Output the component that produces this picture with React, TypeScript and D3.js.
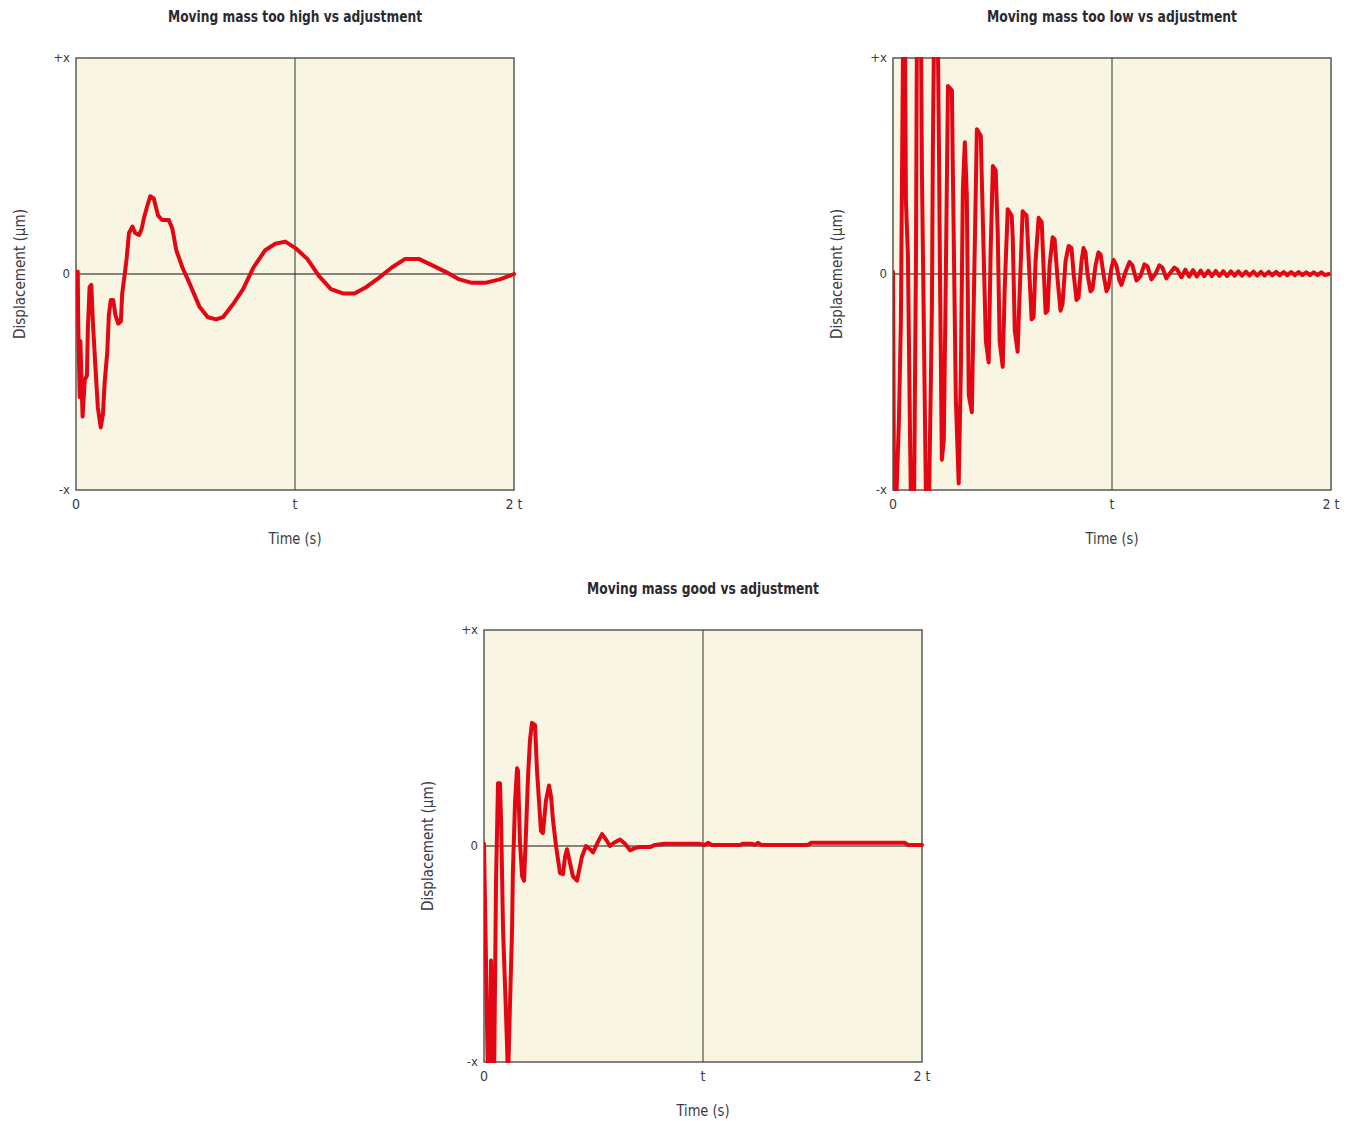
import React from "react";
import * as d3 from "d3";

// time in multiples of t, displacement as fraction of x
const highT = [0, 0.008, 0.01, 0.017, 0.02, 0.03, 0.04, 0.05, 0.054, 0.062, 0.07, 0.077, 0.088, 0.1, 0.113, 0.123, 0.131, 0.143, 0.15, 0.159, 0.17, 0.18, 0.193, 0.205, 0.211, 0.224, 0.231, 0.242, 0.258, 0.27, 0.288, 0.3, 0.313, 0.324, 0.339, 0.355, 0.375, 0.393, 0.424, 0.44, 0.458, 0.486, 0.517, 0.563, 0.602, 0.64, 0.671, 0.717, 0.763, 0.81, 0.864, 0.91, 0.956, 1.002, 1.056, 1.11, 1.164, 1.218, 1.272, 1.326, 1.38, 1.442, 1.503, 1.565, 1.627, 1.688, 1.75, 1.804, 1.873, 1.935, 2.0];
const highY = [0.01, 0.01, -0.22, -0.57, -0.31, -0.66, -0.49, -0.47, -0.26, -0.06, -0.05, -0.22, -0.42, -0.62, -0.71, -0.65, -0.5, -0.36, -0.19, -0.12, -0.12, -0.19, -0.23, -0.22, -0.09, 0.01, 0.07, 0.19, 0.22, 0.19, 0.18, 0.21, 0.27, 0.31, 0.36, 0.35, 0.27, 0.25, 0.25, 0.21, 0.11, 0.03, -0.04, -0.15, -0.2, -0.21, -0.2, -0.14, -0.07, 0.03, 0.11, 0.14, 0.15, 0.12, 0.07, -0.01, -0.07, -0.09, -0.09, -0.06, -0.02, 0.03, 0.07, 0.07, 0.04, 0.01, -0.025, -0.04, -0.04, -0.025, 0.0];

const lowT = [0, 0.005, 0.014, 0.027, 0.036, 0.046, 0.055, 0.059, 0.068, 0.077, 0.082, 0.096, 0.105, 0.109, 0.128, 0.132, 0.141, 0.15, 0.164, 0.173, 0.178, 0.182, 0.187, 0.205, 0.21, 0.214, 0.223, 0.232, 0.241, 0.251, 0.269, 0.273, 0.287, 0.3, 0.31, 0.319, 0.328, 0.337, 0.346, 0.36, 0.369, 0.383, 0.401, 0.405, 0.424, 0.437, 0.446, 0.456, 0.469, 0.478, 0.487, 0.501, 0.51, 0.524, 0.542, 0.547, 0.556, 0.569, 0.579, 0.592, 0.61, 0.62, 0.633, 0.642, 0.651, 0.665, 0.679, 0.688, 0.697, 0.706, 0.715, 0.729, 0.738, 0.752, 0.765, 0.774, 0.788, 0.802, 0.815, 0.825, 0.838, 0.847, 0.861, 0.87, 0.879, 0.888, 0.902, 0.911, 0.925, 0.938, 0.948, 0.961, 0.975, 0.984, 0.998, 1.007, 1.02, 1.034, 1.043, 1.062, 1.08, 1.093, 1.112, 1.13, 1.148, 1.162, 1.18, 1.198, 1.216, 1.23, 1.248, 1.266, 1.285, 1.298, 1.317, 1.335, 1.352, 1.37, 1.387, 1.405, 1.421, 1.44, 1.456, 1.474, 1.49, 1.508, 1.525, 1.543, 1.56, 1.577, 1.594, 1.612, 1.628, 1.646, 1.663, 1.68, 1.697, 1.715, 1.732, 1.75, 1.766, 1.784, 1.8, 1.818, 1.835, 1.852, 1.87, 1.887, 1.904, 1.921, 1.938, 1.956, 1.972, 1.99, 2.0];
const lowY = [0.01, -1.08, -1.08, -0.68, -0.22, 1.08, 1.08, 0.34, 0.09, -0.68, -1.08, -1.08, 0.09, 1.08, 1.08, 0.48, -0.26, -1.0, -1.08, -0.49, -0.12, 0.57, 1.08, 1.08, 0.57, 0.06, -0.86, -0.77, -0.03, 0.87, 0.85, 0.5, -0.58, -0.97, -0.44, 0.39, 0.61, 0.37, -0.56, -0.64, -0.12, 0.67, 0.64, 0.46, -0.31, -0.41, 0.11, 0.5, 0.48, 0.2, -0.31, -0.43, -0.07, 0.3, 0.27, 0.16, -0.26, -0.36, -0.07, 0.29, 0.27, 0.06, -0.21, -0.2, 0.06, 0.26, 0.24, 0.02, -0.18, -0.17, 0.04, 0.17, 0.16, -0.03, -0.17, -0.14, 0.06, 0.13, 0.12, 0.0, -0.12, -0.11, 0.06, 0.12, 0.1, 0.0, -0.08, -0.07, 0.04, 0.1, 0.09, 0.0, -0.08, -0.06, 0.03, 0.065, 0.04, -0.03, -0.05, 0.01, 0.055, 0.04, -0.03, -0.01, 0.045, 0.035, -0.025, 0.0, 0.04, 0.03, -0.02, 0.005, 0.03, 0.02, -0.015, 0.02, -0.012, 0.018, -0.012, 0.016, -0.01, 0.015, -0.01, 0.014, -0.009, 0.013, -0.009, 0.012, -0.008, 0.012, -0.008, 0.011, -0.007, 0.011, -0.007, 0.01, -0.007, 0.01, -0.006, 0.01, -0.006, 0.009, -0.006, 0.009, -0.006, 0.009, -0.005, 0.008, -0.005, 0.008, -0.005, 0.008, -0.005, 0.0];

const goodT = [0, 0.009, 0.018, 0.027, 0.032, 0.041, 0.046, 0.055, 0.064, 0.073, 0.078, 0.087, 0.1, 0.11, 0.119, 0.128, 0.132, 0.142, 0.151, 0.155, 0.164, 0.174, 0.183, 0.192, 0.201, 0.21, 0.219, 0.233, 0.242, 0.251, 0.26, 0.269, 0.283, 0.297, 0.306, 0.315, 0.329, 0.347, 0.361, 0.37, 0.379, 0.393, 0.406, 0.425, 0.434, 0.447, 0.466, 0.484, 0.498, 0.521, 0.539, 0.557, 0.575, 0.594, 0.621, 0.644, 0.667, 0.689, 0.712, 0.758, 0.781, 0.826, 0.986, 1.009, 1.023, 1.04, 1.17, 1.18, 1.224, 1.237, 1.251, 1.265, 1.479, 1.493, 1.922, 1.936, 2.0];
const goodY = [0.01, -0.53, -1.08, -1.08, -0.53, -1.08, -1.08, -0.16, 0.29, 0.29, 0.12, -0.39, -0.76, -1.08, -0.72, -0.39, -0.12, 0.21, 0.36, 0.35, 0.02, -0.14, -0.16, 0.07, 0.32, 0.49, 0.57, 0.56, 0.35, 0.21, 0.07, 0.06, 0.21, 0.28, 0.23, 0.12, 0.0, -0.125, -0.13, -0.05, -0.015, -0.08, -0.14, -0.16, -0.115, -0.05, 0.0, -0.015, -0.03, 0.02, 0.055, 0.03, 0.0, 0.015, 0.03, 0.01, -0.02, -0.01, -0.005, -0.005, 0.005, 0.01, 0.01, 0.005, 0.015, 0.005, 0.005, 0.01, 0.01, 0.005, 0.015, 0.005, 0.005, 0.015, 0.015, 0.005, 0.005];

const xTicks = [0, 1, 2];
const xTickLabels = ["0", "t", "2 t"];
const yTicks = [1, 0, -1];
const yTickLabels = ["+x", "0", "-x"];

const panels = [
  { id: "high", title: "Moving mass too high vs adjustment", titleLen: 254, t: highT, y: highY, left: 76, top: 58 },
  { id: "low", title: "Moving mass too low vs adjustment", titleLen: 250, t: lowT, y: lowY, left: 893, top: 58 },
  { id: "good", title: "Moving mass good vs adjustment", titleLen: 232, t: goodT, y: goodY, left: 484, top: 630 },
];

const W = 438;
const H = 432;
const font = "'Liberation Sans Narrow', 'DejaVu Sans Condensed', 'Arial Narrow', sans-serif";
const textColor = "#3b3b44";

function Panel({ p }: { p: typeof panels[number] }) {
  const x = d3.scaleLinear().domain([0, 2]).range([0, W]);
  const y = d3.scaleLinear().domain([-1, 1]).range([H, 0]);
  const pts: [number, number][] = p.t.map((d, i) => [d, p.y[i]]);
  const line = d3.line<[number, number]>().x((d) => x(d[0])).y((d) => y(d[1]));
  return (
    <g transform={`translate(${p.left},${p.top})`}>
      <defs>
        <clipPath id={`clip-${p.id}`}>
          <rect x={0} y={-1} width={W + 4} height={H + 2} />
        </clipPath>
      </defs>
      <text x={x(1)} y={-36} textAnchor="middle" fontFamily={font} fontWeight="bold" fontSize={15} fill="#2a2a30"
        textLength={p.titleLen} lengthAdjust="spacingAndGlyphs">
        {p.title}
      </text>
      <rect x={0} y={0} width={W} height={H} fill="#f8f6e2" stroke="#5a5a5a" strokeWidth={1.5} />
      <line x1={x(1)} x2={x(1)} y1={0} y2={H} stroke="#333" strokeWidth={1} />
      <line x1={0} x2={W} y1={y(0)} y2={y(0)} stroke="#111" strokeWidth={1} />
      <path d={line(pts) || ""} fill="none" stroke="#e30613" strokeWidth={4} strokeLinejoin="round" strokeLinecap="round" clipPath={`url(#clip-${p.id})`} />
      {yTicks.map((v, i) => (
        <text key={v} x={-6} y={y(v) + 4} textAnchor="end" fontFamily={font} fontSize={13} fill={textColor}>
          {yTickLabels[i]}
        </text>
      ))}
      {xTicks.map((v, i) => (
        <text key={v} x={x(v)} y={H + 19} textAnchor="middle" fontFamily={font} fontSize={14} fill={textColor}>
          {xTickLabels[i]}
        </text>
      ))}
      <text x={x(1)} y={H + 54} textAnchor="middle" fontFamily={font} fontSize={16} fill={textColor}
        textLength={53} lengthAdjust="spacingAndGlyphs">
        Time (s)
      </text>
      <text transform={`translate(-51,${y(0)}) rotate(-90)`} textAnchor="middle" fontFamily={font} fontSize={15} fill={textColor}
        textLength={130} lengthAdjust="spacingAndGlyphs">
        Displacement (µm)
      </text>
    </g>
  );
}

export default function App() {
  return (
    <svg width={1353} height={1121} style={{ position: "absolute", left: 0, top: 0, background: "#fff" }}>
      {panels.map((p) => (
        <Panel key={p.id} p={p} />
      ))}
    </svg>
  );
}
